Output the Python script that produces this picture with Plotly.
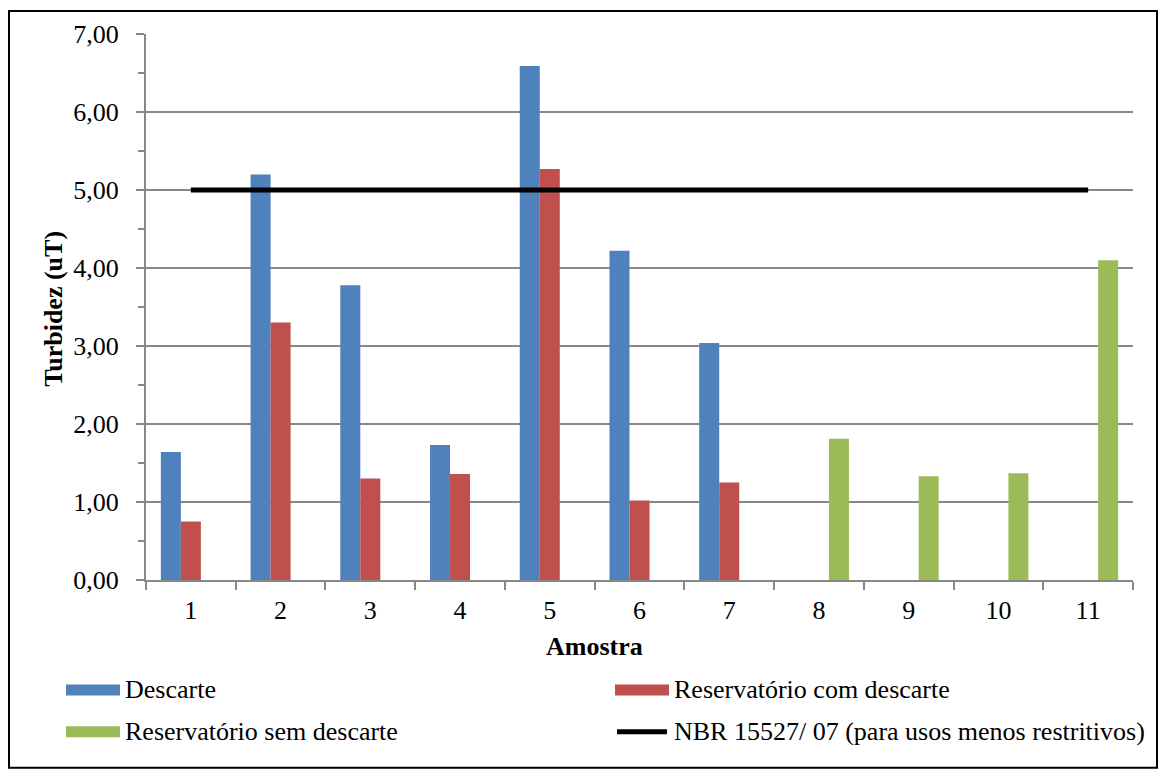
import plotly.graph_objects as go

# ---- data ----
amostras = ["1", "2", "3", "4", "5", "6", "7", "8", "9", "10", "11"]
descarte = [1.64, 5.20, 3.78, 1.73, 6.59, 4.22, 3.04, None, None, None, None]
reserv_com = [0.75, 3.30, 1.30, 1.36, 5.27, 1.02, 1.25, None, None, None, None]
reserv_sem = [None, None, None, None, None, None, None, 1.81, 1.33, 1.37, 4.10]
nbr_limite = [5.0] * 11

serie_nomes = ["Descarte", "Reservatório com descarte", "Reservatório sem descarte",
               "NBR 15527/ 07 (para usos menos restritivos)"]
cores = ["#4F81BD", "#C0504D", "#9BBB59", "#000000"]

FONT = "Liberation Serif, Times New Roman, serif"
FS = 26
FS_LEG = 26
GRAY = "#888888"

# page offset (browser body margin)
OFF = 8
W, H = 1150, 762
# plot area in page pixels
PL, PR, PT, PB = 146, 1133, 32, 580.5
L, R, T, B = PL - OFF, W - (PR - OFF), PT - OFF, H - (PB - OFF)


def px2x(px):
    return (px - PL) / (PR - PL)


def px2y(py):
    return (PB - py) / (PB - PT)


fig = go.Figure()
for vals, nome, cor in zip([descarte, reserv_com, reserv_sem], serie_nomes[:3], cores[:3]):
    fig.add_trace(go.Bar(x=amostras, y=vals, name=nome, marker=dict(color=cor, line=dict(width=0)),
                         showlegend=False))
fig.add_trace(go.Scatter(x=amostras, y=nbr_limite, mode="lines", name=serie_nomes[3],
                         line=dict(color=cores[3], width=5), showlegend=False))

shapes = []
annotations = []

# chart border (inside the figure area)
shapes.append(dict(type="rect", xref="paper", yref="paper",
                   x0=px2x(OFF + 1), x1=px2x(OFF + W - 1), y0=px2y(OFF + H - 1), y1=px2y(OFF + 1),
                   line=dict(color="black", width=2), fillcolor="rgba(0,0,0,0)", layer="below"))

# manual legend
leg_rows = [691, 733]
leg_cols = [(66, 120, 123), (615, 669, 672)]
positions = [(0, 0), (0, 1), (1, 0), (1, 1)]
for i, (nome, cor) in enumerate(zip(serie_nomes, cores)):
    r, c = positions[i]
    yc = leg_rows[r]
    x0, x1, xt = leg_cols[c]
    if i < 3:
        shapes.append(dict(type="rect", xref="paper", yref="paper",
                           x0=px2x(x0), x1=px2x(x1), y0=px2y(yc + 5.5), y1=px2y(yc - 5.5),
                           line=dict(width=0), fillcolor=cor))
    else:
        shapes.append(dict(type="line", xref="paper", yref="paper",
                           x0=px2x(x0 + 2), x1=px2x(x1 - 2), y0=px2y(yc), y1=px2y(yc),
                           line=dict(color=cor, width=5)))
    annotations.append(dict(xref="paper", yref="paper", x=px2x(xt), y=px2y(yc),
                            xanchor="left", yanchor="middle", showarrow=False,
                            text=nome, font=dict(family=FONT, size=FS_LEG, color="black")))

# axis titles
annotations.append(dict(xref="paper", yref="paper", x=px2x(594), y=px2y(647),
                        xanchor="center", yanchor="middle", showarrow=False,
                        text="<b>Amostra</b>", font=dict(family=FONT, size=FS, color="black")))
annotations.append(dict(xref="paper", yref="paper", x=px2x(54), y=px2y(308),
                        xanchor="center", yanchor="middle", showarrow=False, textangle=-90,
                        text="<b>Turbidez (uT)</b>", font=dict(family=FONT, size=FS, color="black")))

fig.update_layout(
    width=W, height=H,
    margin=dict(l=L, r=R, t=T, b=B, pad=0),
    paper_bgcolor="white", plot_bgcolor="white",
    barmode="group", bargap=0.331, bargroupgap=0,
    separators=",.",
    font=dict(family=FONT, size=FS, color="black"),
    shapes=shapes, annotations=annotations,
    showlegend=False,
)
fig.update_xaxes(
    type="category", showline=True, linecolor=GRAY, linewidth=2,
    ticks="outside", tickson="boundaries", ticklen=8, tickcolor=GRAY, tickwidth=2,
    showgrid=False, ticklabelstandoff=6,
    tickfont=dict(family=FONT, size=FS, color="black"),
)
fig.update_yaxes(
    range=[0, 7], dtick=1, tickformat=".2f",
    showline=True, linecolor=GRAY, linewidth=2,
    ticks="outside", ticklen=8, tickcolor=GRAY, tickwidth=2,
    minor=dict(dtick=0.5, ticks="outside", ticklen=6, tickcolor=GRAY, tickwidth=2, showgrid=False),
    showgrid=True, gridcolor=GRAY, gridwidth=2, zeroline=False,
    ticklabelstandoff=12,
    tickfont=dict(family=FONT, size=FS, color="black"),
)

fig.write_html("out.html")
